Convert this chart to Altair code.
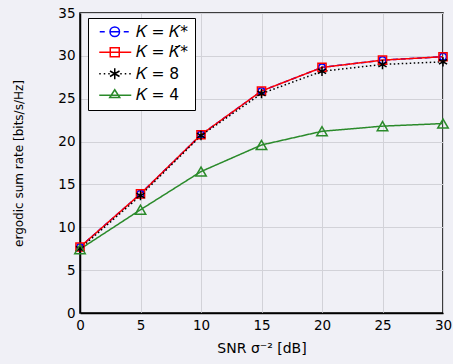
import altair as alt
import pandas as pd

snr = [0, 5, 10, 15, 20, 25, 30]
rate_kstar = [7.7, 13.9, 20.8, 25.9, 28.65, 29.5, 29.9]
rate_kbar = [7.7, 13.9, 20.8, 25.9, 28.65, 29.5, 29.9]
rate_k8 = [7.5, 13.7, 20.7, 25.6, 28.2, 29.0, 29.3]
rate_k4 = [7.45, 12.05, 16.5, 19.6, 21.2, 21.8, 22.1]

K = "\U0001D43E"
names = [f"{K} = {K}*", f"{K} = {K}\u0304*", f"{K} = 8", f"{K} = 4"]
colors = ["#0000ff", "#ff0000", "#000000", "#2a8a2a"]
dashes = [[5, 3], [1, 0], [1.5, 2.5], [1, 0]]
shapes = ["circle", "square",
          "M0,-1V1M-0.87,-0.5L0.87,0.5M-0.87,0.5L0.87,-0.5",
          "triangle-up"]
legend_paths = [
    "M-3,0H-2M-0.95,0H0.95M1.8,0H2.8M0.95,0A0.95,0.95 0 1,1 -0.95,0A0.95,0.95 0 1,1 0.95,0",
    "M-3.1,0H3.3M-0.9,-0.9H0.9V0.9H-0.9Z",
    "M-3.1,0h0.3M-2.2,0h0.3M-1.3,0h0.3M1.1,0h0.3M2,0h0.3M2.9,0h0.3"
    "M0,-1.1V1.1M-0.95,-0.55L0.95,0.55M-0.95,0.55L0.95,-0.55",
    "M-3.1,0H3.3M0,-1.1L1,0.45H-1Z",
]

rows = []
for name, vals in zip(names, [rate_kstar, rate_kbar, rate_k8, rate_k4]):
    for s, v in zip(snr, vals):
        rows.append({"snr": s, "rate": v, "series": name, "leg": name})
df = pd.DataFrame(rows)

font = "DejaVu Sans"
xenc = alt.X("snr:Q", scale=alt.Scale(domain=[0, 30], nice=False),
             axis=alt.Axis(values=snr, title="SNR \u03c3\u207b\u00b2 [dB]"))
yenc = alt.Y("rate:Q", scale=alt.Scale(domain=[0, 35], nice=False),
             axis=alt.Axis(values=[0, 5, 10, 15, 20, 25, 30, 35],
                           title="ergodic sum rate [bits/s/Hz]"))

col = alt.Color("series:N", scale=alt.Scale(domain=names, range=colors), legend=None)
dash = alt.StrokeDash("series:N", scale=alt.Scale(domain=names, range=dashes), legend=None)
shp = alt.Shape("series:N", scale=alt.Scale(domain=names, range=shapes), legend=None)
size = alt.Size("series:N", scale=alt.Scale(domain=names, range=[45, 110, 75, 90]), legend=None)

base = alt.Chart(df)
lines = base.mark_line(strokeWidth=1.5).encode(x=xenc, y=yenc, color=col, strokeDash=dash,
                                                order=alt.Order("snr:Q"))
points = base.mark_point(filled=False, strokeWidth=1.5, opacity=1).encode(
    x=xenc, y=yenc, color=col, shape=shp, size=size)

leg = alt.Legend(title=None, orient="none", legendX=8, legendY=5,
                 fillColor="white", strokeColor="black",
                 padding=6, symbolSize=100, symbolStrokeWidth=1.5,
                 symbolOffset=13, labelOffset=13,
                 labelFont=font, labelFontSize=15.5,
                 labelColor="black", rowPadding=3.5)

# legend-only layer: points are pushed far outside the clipped view
legend_layer = base.transform_calculate(hidden="datum.rate + 1000").mark_point(
    filled=False, strokeWidth=1.5, size=100, opacity=1, clip=True).encode(
    x=xenc, y=alt.Y("hidden:Q"),
    color=alt.Color("leg:N", scale=alt.Scale(domain=names, range=colors), legend=leg),
    shape=alt.Shape("leg:N", scale=alt.Scale(domain=names, range=legend_paths), legend=leg),
)

chart = alt.layer(lines, points, legend_layer).resolve_scale(
    color="independent", shape="independent"
).properties(
    width=363, height=300,
    padding={"left": 80, "top": 13, "right": 10, "bottom": 51},
    autosize=alt.AutoSizeParams(type="none"),
    background="#f0f0f6",
).configure_view(
    fill="#f0f0f6", stroke="black", strokeWidth=1.5
).configure_axis(
    grid=True, gridColor="#d2d2d8", gridWidth=1,
    domainColor="black", domainWidth=1.5, ticks=False,
    labelFont=font, labelFontSize=13.5, labelColor="black",
    titleFont=font, titleFontWeight="normal", titleColor="black",
    labelPadding=5, labelFlush=False,
).configure_axisY(
    titleFontSize=12, titlePadding=32,
).configure_axisX(
    titleFontSize=14, titlePadding=10,
)

chart.save("out.html", embed_options={"renderer": "svg", "actions": False})
